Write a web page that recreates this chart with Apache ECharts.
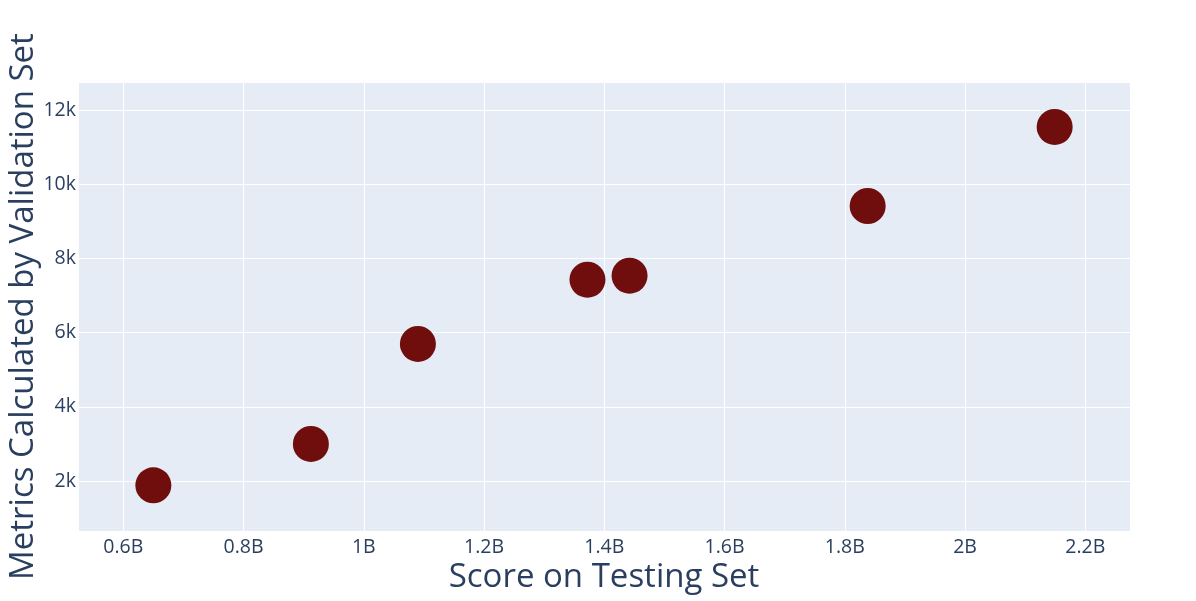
<!DOCTYPE html>
<html>
<head>
<meta charset="utf-8">
<script src="https://cdn.jsdelivr.net/npm/echarts@6/dist/echarts.min.js"></script>
<style>html,body{margin:0;padding:0;background:#fff;}#c{width:1196px;height:601px;}</style>
</head>
<body>
<div id="c"></div>
<script>
const scoreTesting = [0.650e9, 0.912e9, 1.090e9, 1.372e9, 1.442e9, 1.838e9, 2.149e9];
const metricsValidation = [1884, 2998, 5696, 7430, 7538, 9418, 11550];
const xTitle = 'Score on Testing Set';
const yTitle = 'Metrics Calculated by Validation Set';

const chart = echarts.init(document.getElementById('c'), null, {renderer: 'canvas'});
const font = '"Open Sans", "Noto Sans", sans-serif';
const txt = '#2a3f5f';
function fmtB(v) {
  const r = Math.round(v / 1e8) / 10;
  if (Math.abs(v / 1e9 * 10 - Math.round(v / 1e9 * 10)) > 1e-6) return '';
  if (Math.round(r * 10) % 2 !== 0) return '';
  return (Number.isInteger(r) ? r.toFixed(0) : r.toFixed(1)) + 'B';
}
function fmtK(v) {
  if (Math.abs(v / 2000 - Math.round(v / 2000)) > 1e-6) return '';
  return (v / 1000) + 'k';
}
chart.setOption({
  animation: false,
  backgroundColor: '#ffffff',
  grid: {left: 78, right: 66, top: 82, bottom: 70, show: true, backgroundColor: '#E5ECF6', borderWidth: 0, containLabel: false, outerBoundsMode: 'none'},
  xAxis: {
    type: 'value', min: 0.5247e9, max: 2.2743e9, splitNumber: 8,
    name: xTitle, nameLocation: 'middle', nameGap: 30, nameMoveOverlap: false,
    nameTextStyle: {fontFamily: font, fontSize: 33, color: txt},
    axisLine: {show: false}, axisTick: {show: false},
    axisLabel: {fontFamily: font, fontSize: 19.5, color: txt, margin: 6, formatter: fmtB, showMinLabel: false, showMaxLabel: false},
    splitLine: {show: true, lineStyle: {color: '#ffffff', width: 1}}
  },
  yAxis: {
    type: 'value', min: 651, max: 12763, splitNumber: 6,
    name: yTitle, nameLocation: 'middle', nameGap: 38, nameRotate: 90, nameMoveOverlap: false,
    nameTextStyle: {fontFamily: font, fontSize: 33, color: txt},
    axisLine: {show: false}, axisTick: {show: false},
    axisLabel: {fontFamily: font, fontSize: 19.5, color: txt, margin: 2, formatter: fmtK, showMinLabel: false, showMaxLabel: false},
    splitLine: {show: true, lineStyle: {color: '#ffffff', width: 1}}
  },
  series: [{
    type: 'scatter',
    symbolSize: 36,
    itemStyle: {color: '#700e0e', opacity: 1},
    data: scoreTesting.map((x, i) => [x, metricsValidation[i]])
  }]
});
</script>
</body>
</html>
